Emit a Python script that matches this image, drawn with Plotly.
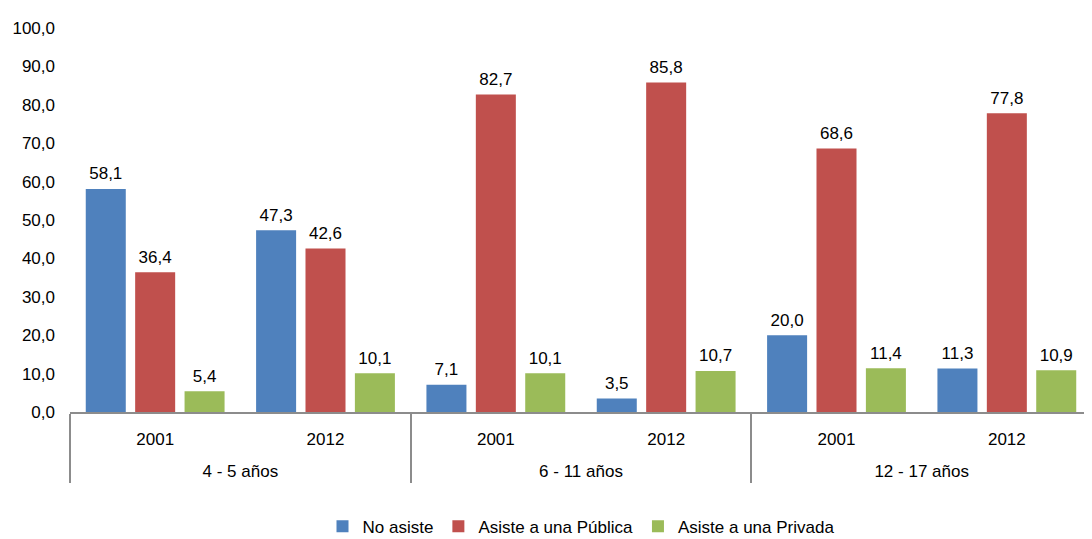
import plotly.graph_objects as go

groups = ["4 - 5 años", "4 - 5 años", "6 - 11 años", "6 - 11 años", "12 - 17 años", "12 - 17 años"]
years = ["2001", "2012", "2001", "2012", "2001", "2012"]

no_asiste = [58.1, 47.3, 7.1, 3.5, 20.0, 11.3]
publica = [36.4, 42.6, 82.7, 85.8, 68.6, 77.8]
privada = [5.4, 10.1, 10.1, 10.7, 11.4, 10.9]

series = [
    ("No asiste", no_asiste, "#4F81BD"),
    ("Asiste a una Pública", publica, "#C0504D"),
    ("Asiste a una Privada", privada, "#9BBB59"),
]

FONT = "Liberation Sans, Arial"

# an empty second line under each year pushes the age-group row further down
year_labels = [y + "<br>\u00a0" for y in years]

fig = go.Figure()
for name, vals, color in series:
    fig.add_trace(
        go.Bar(
            name=name,
            x=[groups, year_labels],
            y=vals,
            offsetgroup=name,
            marker=dict(color=color, line=dict(width=0)),
            hoverinfo="y",
        )
    )
    # value labels, placed with the same offset group as the bars
    fig.add_trace(
        go.Scatter(
            x=[groups, year_labels],
            y=vals,
            offsetgroup=name,
            mode="markers+text",
            marker=dict(size=7, opacity=0),
            texttemplate="%{y:.1f}",
            textposition="top center",
            textfont=dict(size=17, color="#000000", family=FONT),
            showlegend=False,
            hoverinfo="skip",
            cliponaxis=False,
        )
    )

fig.update_layout(
    width=1092,
    height=539,
    barmode="group",
    scattermode="group",
    bargap=0.13,
    bargroupgap=0.19,
    separators=",.",
    paper_bgcolor="white",
    plot_bgcolor="white",
    font=dict(family=FONT, size=17, color="#000000"),
    margin=dict(l=62, r=8, t=20, b=135, autoexpand=False),
    showlegend=True,
    legend=dict(
        orientation="h",
        x=0.5,
        xanchor="center",
        y=-0.252,
        yanchor="top",
        font=dict(size=17),
        itemwidth=30,
        traceorder="normal",
    ),
    xaxis=dict(
        automargin=False,
        showline=True,
        linecolor="#8C8C8C",
        linewidth=2,
        showgrid=False,
        ticks="",
        showdividers=True,
        dividercolor="#8C8C8C",
        dividerwidth=2,
        ticklabelstandoff=11,
        tickfont=dict(size=17),
    ),
    yaxis=dict(
        automargin=False,
        range=[0, 100],
        dtick=10,
        tickformat=".1f",
        showgrid=False,
        showline=False,
        zeroline=False,
        ticks="",
        ticklabelstandoff=14,
        tickfont=dict(size=17),
    ),
)

fig.write_html("out.html")
